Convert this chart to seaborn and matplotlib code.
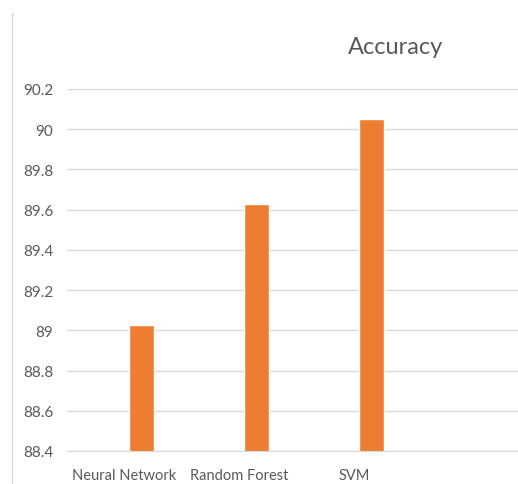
import pandas as pd
import seaborn as sns
import matplotlib.pyplot as plt
from matplotlib.lines import Line2D

# data
models = ["Neural Network", "Random Forest", "SVM"]
accuracy = [89.025, 89.63, 90.05]
blank = [0, 0, 0]           # empty first series (Excel-style cluster slot)
series = ["blank", "Accuracy"]

df = pd.concat([
    pd.DataFrame({"model": models, "accuracy": blank, "series": "blank"}),
    pd.DataFrame({"model": models, "accuracy": accuracy, "series": "Accuracy"}),
])

sns.set_style("white")
plt.rcParams["font.family"] = ["Lato", "DejaVu Sans"]

fig = plt.figure(figsize=(5.18, 4.85), dpi=100)
ax = fig.add_axes([67 / 518, 1 - 452 / 485, 1 - 67 / 518, (452 - 90) / 485])

sns.barplot(
    data=df, x="model", y="accuracy", hue="series", hue_order=series,
    order=models, palette={"blank": "#4472C4", "Accuracy": "#ED7D31"},
    width=0.592, gap=0.25, saturation=1, legend=False, ax=ax,
)

ax.set_ylim(88.4, 90.2)
ax.set_xlim(-0.5, 3.42)
ax.set_yticks([88.4 + 0.2 * i for i in range(10)])
ax.set_yticklabels(["88.4", "88.6", "88.8", "89", "89.2", "89.4",
                    "89.6", "89.8", "90", "90.2"])
ax.yaxis.grid(True, color="#D9D9D9", linewidth=1)
ax.set_axisbelow(True)
for s in ["top", "right", "left"]:
    ax.spines[s].set_visible(False)
ax.spines["bottom"].set_color("#D9D9D9")
ax.tick_params(axis="y", length=0, pad=10, labelsize=11, labelcolor="#595959")
ax.tick_params(axis="x", length=0, pad=12, labelsize=10.5, labelcolor="#595959")
ax.set_xlabel("")
ax.set_ylabel("")

fig.text(396 / 518, 1 - 48 / 485, "Accuracy", ha="center", va="center",
         fontsize=17, color="#595959")
fig.add_artist(Line2D([12 / 518, 12 / 518], [0, 1 - 14 / 485],
                      color="#D9D9D9", linewidth=1))

plt.savefig("out.png", dpi=100)
plt.close()
